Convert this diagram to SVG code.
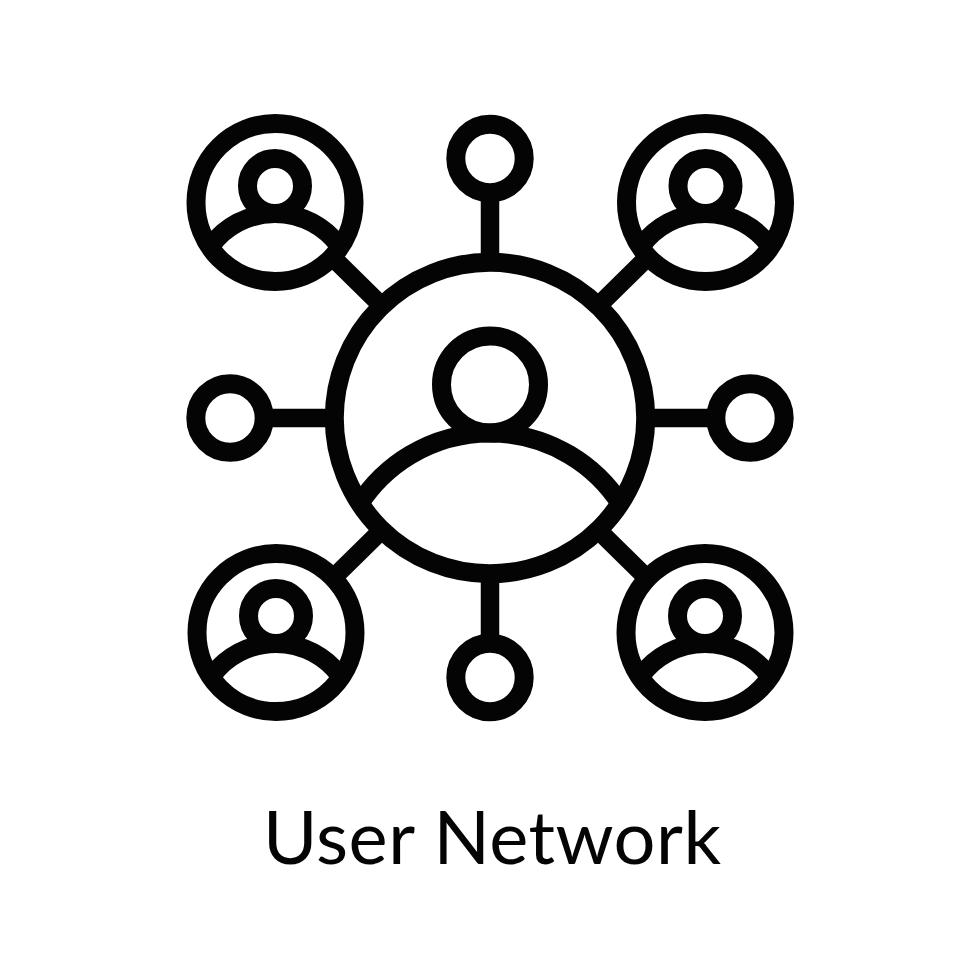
<svg xmlns="http://www.w3.org/2000/svg" width="980" height="980" viewBox="0 0 980 980">
<style>
.n{fill:#fff;stroke:#040404;stroke-width:19}
.c{stroke:#040404;stroke-width:18.5;fill:none}
.b{fill:none;stroke:#040404;stroke-width:19}
.t{font-family:"Lato","Open Sans",sans-serif;font-size:74px;fill:#040404}
</style>
<defs>
<g id="user">
<circle class="n" cx="0" cy="0" r="79"/>
<circle class="b" cx="0" cy="-16.500" r="27.500"/>
<path class="b" d="M-63.400 42.500A79.500 79.500 0 0 1 63.400 42.500"/>
</g>
</defs>
<rect width="980" height="980" fill="#fff"/>
<g id="connectors">
<path class="c" d="M490 260V190M490 575V645M335 418H260M645 418H720M385 309L325 250M595 309L655 250M385 527L325 586M595 527L655 586"/>
</g>
<g id="hub">
<circle class="n" cx="490" cy="418" r="155.700"/>
<circle class="b" cx="490" cy="384.500" r="48.500"/>
<path class="b" d="M358.800 505A155.500 155.500 0 0 1 621.200 505"/>
</g>
<g id="user-tl"><use href="#user" x="275" y="202.500"/></g>
<g id="user-tr"><use href="#user" x="705.500" y="202.500"/></g>
<g id="user-bl"><use href="#user" x="276" y="632.500"/></g>
<g id="user-br"><use href="#user" x="705" y="632.500"/></g>
<g id="node-top"><circle class="n" cx="490" cy="158.500" r="34.200"/></g>
<g id="node-bottom"><circle class="n" cx="490" cy="677.500" r="34.200"/></g>
<g id="node-left"><circle class="n" cx="230" cy="418" r="34.200"/></g>
<g id="node-right"><circle class="n" cx="750" cy="418" r="34.200"/></g>
<text class="t" x="263" y="864" textLength="458">User Network</text>
</svg>
